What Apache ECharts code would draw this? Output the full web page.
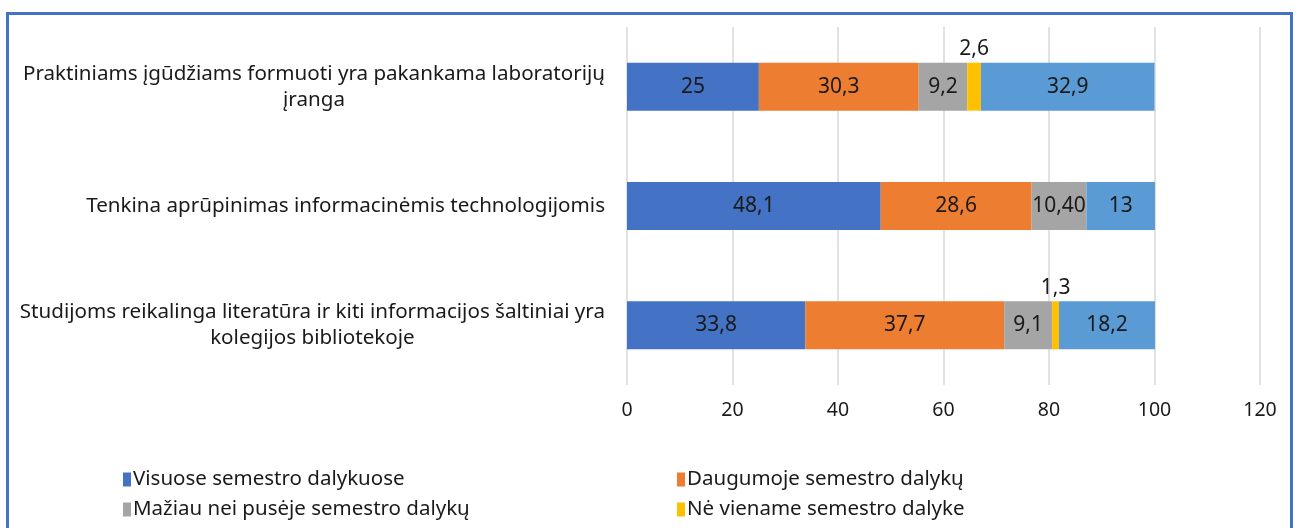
<!DOCTYPE html>
<html>
<head>
<meta charset="utf-8">
<script src="https://cdn.jsdelivr.net/npm/echarts@6/dist/echarts.min.js"></script>
<style>html,body{margin:0;padding:0;background:#fff}#c{width:1298px;height:528px}</style>
</head>
<body>
<div id="c"></div>
<script>
var categories = [
  "Praktiniams įgūdžiams formuoti yra pakankama laboratorijų\nįranga",
  "Tenkina aprūpinimas informacinėmis technologijomis",
  "Studijoms reikalinga literatūra ir kiti informacijos šaltiniai yra\nkolegijos bibliotekoje"
];
var seriesNames = ["Visuose semestro dalykuose", "Daugumoje semestro dalykų", "Mažiau nei pusėje semestro dalykų", "Nė viename semestro dalyke", "Kita"];
var visuose = [25, 48.1, 33.8];
var daugumoje = [30.3, 28.6, 37.7];
var maziau = [9.2, 10.4, 9.1];
var neviename = [2.6, 0, 1.3];
var kita = [32.9, 13, 18.2];
var labelsVisuose = ["25", "48,1", "33,8"];
var labelsDaugumoje = ["30,3", "28,6", "37,7"];
var labelsMaziau = ["9,2", "10,40", "9,1"];
var labelsNeviename = ["2,6", "", "1,3"];
var labelsKita = ["32,9", "13", "18,2"];
var xTicks = [0, 20, 40, 60, 80, 100, 120];

var colors = ["#4472C4", "#ED7D31", "#A5A5A5", "#FFC000", "#5B9BD5"];
var FONT = "Noto Sans";
var dataSets = [visuose, daugumoje, maziau, neviename, kita];
var labelSets = [labelsVisuose, labelsDaugumoje, labelsMaziau, labelsNeviename, labelsKita];

var chart = echarts.init(document.getElementById('c'), null, {renderer: 'canvas'});
var series = dataSets.map(function (d, i) {
  var small = (i === 3);
  return {
    name: seriesNames[i],
    type: 'bar',
    stack: 'total',
    data: d,
    barWidth: 48,
    itemStyle: {color: colors[i]},
    label: {
      show: true,
      position: small ? 'top' : 'inside',
      distance: 3,
      color: '#1a1a1a',
      fontFamily: FONT,
      fontSize: 21,
      formatter: function (p) { return labelSets[i][p.dataIndex]; }
    }
  };
});

var legendText = {fontFamily: FONT, fontSize: 20.5, color: '#1a1a1a', padding: [0, 0, 0, -3]};

chart.setOption({
  animation: false,
  color: colors,
  textStyle: {fontFamily: FONT},
  graphic: [{
    type: 'rect',
    shape: {x: 7.5, y: 13.5, width: 1284, height: 540},
    style: {fill: 'none', stroke: '#4472C4', lineWidth: 3},
    silent: true
  }],
  legend: [{
    data: [seriesNames[0], seriesNames[2]],
    orient: 'vertical',
    left: 118, top: 464,
    itemWidth: 8, itemHeight: 14, itemGap: 9,
    icon: 'rect',
    textStyle: legendText
  }, {
    data: [seriesNames[1], seriesNames[3]],
    orient: 'vertical',
    left: 672, top: 464,
    itemWidth: 8, itemHeight: 14, itemGap: 9,
    icon: 'rect',
    textStyle: legendText
  }],
  grid: {left: 627, right: 38, top: 27, bottom: 143, containLabel: false},
  xAxis: {
    type: 'value',
    min: xTicks[0], max: xTicks[xTicks.length - 1], interval: 20,
    axisLine: {show: false},
    axisTick: {show: false},
    splitLine: {lineStyle: {color: '#D9D9D9', width: 1.5}},
    axisLabel: {fontFamily: FONT, fontSize: 19.5, color: '#1a1a1a', margin: 15}
  },
  yAxis: {
    type: 'category',
    inverse: true,
    data: categories,
    axisLine: {show: false},
    axisTick: {show: false},
    axisLabel: {
      margin: 22,
      formatter: function (v) {
        return v.split('\n').map(function (l) { return '{c|' + l + '}'; }).join('\n');
      },
      rich: {c: {fontFamily: FONT, fontSize: 20.6, color: '#1a1a1a', align: 'center', lineHeight: 26}}
    }
  },
  series: series
});
</script>
</body>
</html>
